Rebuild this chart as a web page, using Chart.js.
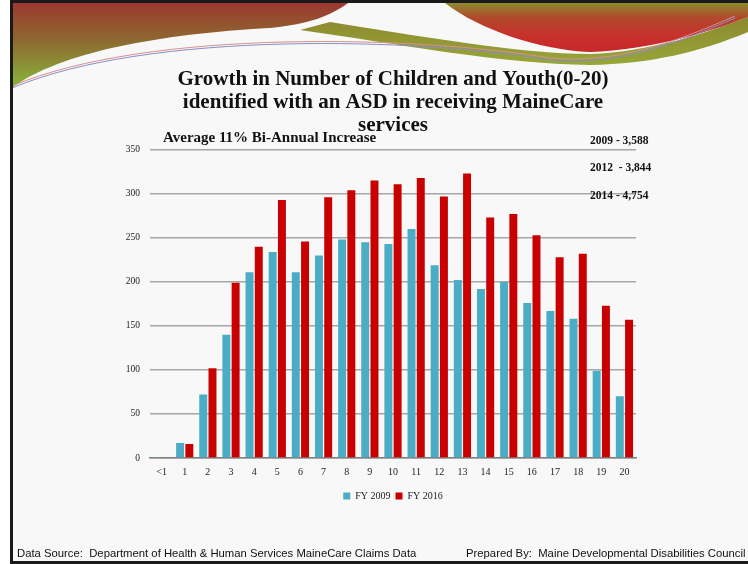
<!DOCTYPE html>
<html>
<head>
<meta charset="utf-8">
<script src="https://cdn.jsdelivr.net/npm/chart.js@4/dist/chart.umd.min.js"></script>
<style>
  html, body { margin: 0; padding: 0; background: #fff; }
  #slide { position: relative; width: 748px; height: 564px; overflow: hidden; }
  #bg { position: absolute; left: 0; top: 0; }
  #wrap { position: absolute; left: 0; top: 0; width: 748px; height: 519px; }
  .note { position: absolute; font-family: "Liberation Serif", serif; font-weight: bold; color: #111; white-space: pre; }
  .foot { position: absolute; top: 547px; font-family: "Liberation Sans", sans-serif; font-size: 11.3px; color: #111; white-space: pre; }
</style>
</head>
<body>
<div id="slide">
  <canvas id="bg" width="748" height="564"></canvas>
  <div id="wrap"><canvas id="asdChart"></canvas></div>
  <div class="note" style="left:163px; top:129px; font-size:15px;">Average 11% Bi-Annual Increase</div>
  <div class="note" style="left:590px; top:134px; font-size:11.5px;">2009 - 3,588</div>
  <div class="note" style="left:590px; top:161px; font-size:11.5px;">2012  - 3,844</div>
  <div class="note" style="left:590px; top:189px; font-size:11.5px;">2014 - 4,754</div>
  <div class="foot" style="left:17px;">Data Source:  Department of Health &amp; Human Services MaineCare Claims Data</div>
  <div class="foot" style="left:466px;">Prepared By:  Maine Developmental Disabilities Council</div>
</div>
<script>
const ages = ["<1", "1", "2", "3", "4", "5", "6", "7", "8", "9", "10",
  "11", "12", "13", "14", "15", "16", "17", "18", "19", "20"];
const fy2009 = [1, 17, 72, 140, 211, 234, 211, 230, 248, 245, 243,
  260, 219, 202, 192, 200, 176, 167, 158, 99, 70];
const fy2016 = [0, 16, 102, 199, 240, 293, 246, 296, 304, 315, 311,
  318, 297, 323, 273, 277, 253, 228, 232, 173, 157];
const yTicks = [0, 50, 100, 150, 200, 250, 300, 350];

// slide background and the swoosh at the top
const bg = document.getElementById("bg").getContext("2d");
bg.fillStyle = "#fff";
bg.fillRect(0, 0, 748, 564);
bg.fillStyle = "#f8f8f8";
bg.fillRect(12, 3, 736, 558);

// left band
let g = bg.createLinearGradient(0, 3, 0, 88);
g.addColorStop(0, "#9c3830");
g.addColorStop(0.45, "#8d6a30");
g.addColorStop(1, "#88b83a");
bg.fillStyle = g;
bg.beginPath();
bg.moveTo(12, 3);
bg.lineTo(348, 3);
bg.bezierCurveTo(330, 16, 310, 24, 270, 28);
bg.bezierCurveTo(160, 34, 60, 52, 12, 88);
bg.closePath();
bg.fill();

// olive band under the white stripe
g = bg.createLinearGradient(0, 20, 0, 70);
g.addColorStop(0, "#8e8a30");
g.addColorStop(1, "#98aa38");
bg.fillStyle = g;
bg.beginPath();
bg.moveTo(330, 22);
bg.bezierCurveTo(420, 36, 520, 54, 590, 54);
bg.bezierCurveTo(650, 52, 710, 32, 748, 17);
bg.lineTo(748, 32);
bg.bezierCurveTo(700, 52, 650, 64, 590, 65);
bg.bezierCurveTo(500, 64, 400, 44, 300, 30);
bg.closePath();
bg.fill();

// red area on the right
g = bg.createLinearGradient(0, 3, 0, 50);
g.addColorStop(0, "#8c8a30");
g.addColorStop(0.3, "#b04a2c");
g.addColorStop(0.7, "#c8302c");
g.addColorStop(1, "#c8282a");
bg.fillStyle = g;
bg.beginPath();
bg.moveTo(445, 3);
bg.lineTo(748, 3);
bg.lineTo(748, 17);
bg.bezierCurveTo(710, 32, 650, 50, 590, 52);
bg.bezierCurveTo(540, 50, 480, 30, 445, 3);
bg.closePath();
bg.fill();

// thin lines
[["#8c8cc8", 0], ["#d89090", -2]].forEach(([c, d]) => {
  bg.strokeStyle = c;
  bg.lineWidth = 1;
  bg.beginPath();
  bg.moveTo(12, 88 + d);
  bg.bezierCurveTo(150, 30 + d, 420, 38 + d, 550, 60 + d);
  bg.bezierCurveTo(620, 66 + d, 680, 42 + d, 735, 18 + d);
  bg.stroke();
});

// frame
bg.fillStyle = "#1a1a1a";
bg.fillRect(10, 0, 738, 3);
bg.fillRect(10, 0, 3, 564);
bg.fillRect(10, 561, 738, 3);

const serif = "'Liberation Serif', serif";

new Chart(document.getElementById("asdChart"), {
  type: "bar",
  data: {
    labels: ages,
    datasets: [
      {
        label: "FY 2009",
        data: fy2009,
        backgroundColor: "#4bacc6",
        categoryPercentage: 0.8,
        barPercentage: 0.86
      },
      {
        label: "FY 2016",
        data: fy2016,
        backgroundColor: "#c80000",
        categoryPercentage: 0.8,
        barPercentage: 0.86
      }
    ]
  },
  options: {
    responsive: true,
    maintainAspectRatio: false,
    animation: false,
    layout: { padding: { top: 60, right: 112, bottom: 8, left: 0 } },
    plugins: {
      title: {
        display: true,
        fullSize: false,
        text: ["Growth in Number of Children and Youth(0-20)",
          "identified with an ASD in receiving MaineCare", "services"],
        font: { family: serif, size: 21, weight: "bold", lineHeight: 1.1 },
        color: "#111",
        padding: { top: 8, bottom: 12.5 }
      },
      legend: {
        position: "bottom",
        fullSize: false,
        labels: {
          boxWidth: 7,
          boxHeight: 7,
          padding: 5,
          color: "#222",
          font: { family: serif, size: 10 }
        }
      },
      tooltip: { enabled: false }
    },
    scales: {
      x: {
        grid: { display: false, drawTicks: false },
        border: { display: true, color: "#808080", width: 1.5 },
        ticks: {
          padding: 8,
          color: "#222",
          font: { family: serif, size: 10 },
          maxRotation: 0,
          autoSkip: false
        }
      },
      y: {
        min: 0,
        max: 350,
        afterFit: axis => { axis.width = 150; },
        afterBuildTicks: axis => { axis.ticks = yTicks.map(v => ({ value: v })); },
        grid: { color: "#a6a6a6", lineWidth: 1.5, drawTicks: false },
        border: { display: false },
        ticks: {
          padding: 10,
          color: "#222",
          font: { family: serif, size: 9.5 }
        }
      }
    }
  }
});
</script>
</body>
</html>
